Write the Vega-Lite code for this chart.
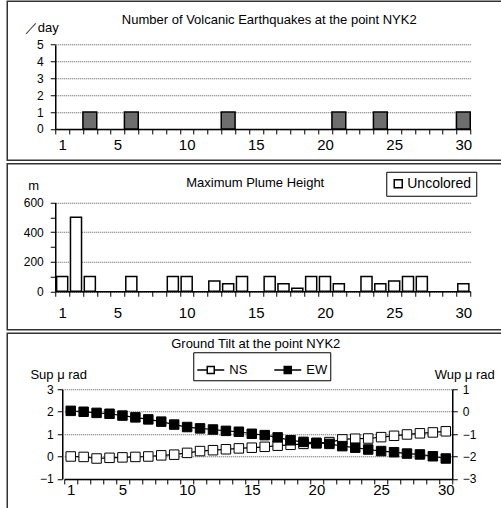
{
  "$schema": "https://vega.github.io/schema/vega-lite/v6.json",
  "padding": {"left": 6.25, "top": 0.25, "right": 0, "bottom": 0},
  "background": "white",
  "spacing": 1.5,
  "resolve": {"scale": {"fill": "independent"}, "legend": {"fill": "independent"}},
  "config": {
    "view": {"stroke": "#333", "strokeWidth": 1.5},
    "font": "Liberation Sans",
    "axis": {
      "labelFont": "Liberation Sans", "titleFont": "Liberation Sans",
      "labelColor": "black", "titleColor": "black",
      "domainColor": "black", "tickColor": "black",
      "tickSize": 5, "domainWidth": 1.5, "tickWidth": 1,
      "titleFontWeight": "normal", "titleFontSize": 13, "labelFontSize": 12,
      "gridColor": "#555", "gridDash": [1, 1], "gridWidth": 1
    },
    "title": {"font": "Liberation Sans", "fontSize": 13, "fontWeight": "normal", "color": "black", "frame": "group"},
    "legend": {"labelFont": "Liberation Sans", "labelColor": "black", "labelFontSize": 13}
  },
  "datasets": {
    "quakes": [
      {"day": 3, "count": 1}, {"day": 6, "count": 1}, {"day": 13, "count": 1},
      {"day": 21, "count": 1}, {"day": 24, "count": 1}, {"day": 30, "count": 1}
    ],
    "plume": [
      {"day": 1, "height": 100, "kind": "Uncolored"}, {"day": 2, "height": 500, "kind": "Uncolored"},
      {"day": 3, "height": 100, "kind": "Uncolored"}, {"day": 6, "height": 100, "kind": "Uncolored"},
      {"day": 9, "height": 100, "kind": "Uncolored"}, {"day": 10, "height": 100, "kind": "Uncolored"},
      {"day": 12, "height": 70, "kind": "Uncolored"}, {"day": 13, "height": 50, "kind": "Uncolored"},
      {"day": 14, "height": 100, "kind": "Uncolored"}, {"day": 16, "height": 100, "kind": "Uncolored"},
      {"day": 17, "height": 50, "kind": "Uncolored"}, {"day": 18, "height": 20, "kind": "Uncolored"},
      {"day": 19, "height": 100, "kind": "Uncolored"}, {"day": 20, "height": 100, "kind": "Uncolored"},
      {"day": 21, "height": 50, "kind": "Uncolored"}, {"day": 23, "height": 100, "kind": "Uncolored"},
      {"day": 24, "height": 50, "kind": "Uncolored"}, {"day": 25, "height": 70, "kind": "Uncolored"},
      {"day": 26, "height": 100, "kind": "Uncolored"}, {"day": 27, "height": 100, "kind": "Uncolored"},
      {"day": 30, "height": 50, "kind": "Uncolored"}
    ],
    "tilt": [
      {"day": 1, "series": "NS", "value": 0.0}, {"day": 2, "series": "NS", "value": -0.02},
      {"day": 3, "series": "NS", "value": -0.09}, {"day": 4, "series": "NS", "value": -0.06},
      {"day": 5, "series": "NS", "value": -0.04}, {"day": 6, "series": "NS", "value": -0.02},
      {"day": 7, "series": "NS", "value": 0.0}, {"day": 8, "series": "NS", "value": 0.05},
      {"day": 9, "series": "NS", "value": 0.08}, {"day": 10, "series": "NS", "value": 0.16},
      {"day": 11, "series": "NS", "value": 0.24}, {"day": 12, "series": "NS", "value": 0.28},
      {"day": 13, "series": "NS", "value": 0.32}, {"day": 14, "series": "NS", "value": 0.36},
      {"day": 15, "series": "NS", "value": 0.39}, {"day": 16, "series": "NS", "value": 0.43},
      {"day": 17, "series": "NS", "value": 0.48}, {"day": 18, "series": "NS", "value": 0.52},
      {"day": 19, "series": "NS", "value": 0.56}, {"day": 20, "series": "NS", "value": 0.58},
      {"day": 21, "series": "NS", "value": 0.64}, {"day": 22, "series": "NS", "value": 0.76},
      {"day": 23, "series": "NS", "value": 0.79}, {"day": 24, "series": "NS", "value": 0.8},
      {"day": 25, "series": "NS", "value": 0.86}, {"day": 26, "series": "NS", "value": 0.92},
      {"day": 27, "series": "NS", "value": 0.98}, {"day": 28, "series": "NS", "value": 1.03},
      {"day": 29, "series": "NS", "value": 1.07}, {"day": 30, "series": "NS", "value": 1.12},
      {"day": 1, "series": "EW", "value": 0.03}, {"day": 2, "series": "EW", "value": -0.01},
      {"day": 3, "series": "EW", "value": -0.06}, {"day": 4, "series": "EW", "value": -0.1},
      {"day": 5, "series": "EW", "value": -0.18}, {"day": 6, "series": "EW", "value": -0.26},
      {"day": 7, "series": "EW", "value": -0.35}, {"day": 8, "series": "EW", "value": -0.45},
      {"day": 9, "series": "EW", "value": -0.58}, {"day": 10, "series": "EW", "value": -0.69},
      {"day": 11, "series": "EW", "value": -0.75}, {"day": 12, "series": "EW", "value": -0.8},
      {"day": 13, "series": "EW", "value": -0.86}, {"day": 14, "series": "EW", "value": -0.9},
      {"day": 15, "series": "EW", "value": -0.99}, {"day": 16, "series": "EW", "value": -1.05},
      {"day": 17, "series": "EW", "value": -1.15}, {"day": 18, "series": "EW", "value": -1.28},
      {"day": 19, "series": "EW", "value": -1.35}, {"day": 20, "series": "EW", "value": -1.39},
      {"day": 21, "series": "EW", "value": -1.44}, {"day": 22, "series": "EW", "value": -1.54},
      {"day": 23, "series": "EW", "value": -1.61}, {"day": 24, "series": "EW", "value": -1.69},
      {"day": 25, "series": "EW", "value": -1.76}, {"day": 26, "series": "EW", "value": -1.81},
      {"day": 27, "series": "EW", "value": -1.87}, {"day": 28, "series": "EW", "value": -1.91},
      {"day": 29, "series": "EW", "value": -1.99}, {"day": 30, "series": "EW", "value": -2.09}
    ]
  },
  "vconcat": [
    {
      "width": 520, "height": 159,
      "title": {"text": "Number of Volcanic Earthquakes at the point NYK2", "offset": -25.5, "dx": 2},
      "data": {"name": "quakes"},
      "mark": {"type": "bar", "fill": "#6e6e6e", "stroke": "black", "strokeWidth": 1.5, "width": {"band": 1}},
      "encoding": {
        "x": {
          "field": "day", "type": "ordinal",
          "scale": {"type": "band", "domain": [1,2,3,4,5,6,7,8,9,10,11,12,13,14,15,16,17,18,19,20,21,22,23,24,25,26,27,28,29,30], "range": [48, 463], "paddingInner": 0, "paddingOuter": 0},
          "axis": {"title": null, "labelAngle": 0, "tickBand": "extent", "offset": -31.3, "labelExpr": "indexof([1,5,10,15,20,25,30], datum.value) >= 0 ? datum.label : ''", "labelOverlap": false, "labelFontSize": 15, "labelPadding": 4, "grid": false}
        },
        "y": {
          "field": "count", "type": "quantitative",
          "scale": {"domain": [0, 5], "range": [127.7, 43.4], "nice": false},
          "axis": {"title": "／day", "titleAngle": 0, "titleX": -14, "titleY": 26, "titleAlign": "center", "titleBaseline": "middle", "values": [0,1,2,3,4,5], "grid": true, "offset": -48, "labelPadding": 7}
        }
      }
    },
    {
      "width": 520, "height": 166,
      "title": {"text": "Maximum Plume Height", "offset": -26.5, "dx": -12},
      "data": {"name": "plume"},
      "mark": {"type": "bar", "stroke": "black", "strokeWidth": 1.5, "width": {"band": 0.8}},
      "encoding": {
        "x": {
          "field": "day", "type": "ordinal",
          "scale": {"type": "band", "domain": [1,2,3,4,5,6,7,8,9,10,11,12,13,14,15,16,17,18,19,20,21,22,23,24,25,26,27,28,29,30], "range": [48, 463], "paddingInner": 0, "paddingOuter": 0},
          "axis": {"title": null, "labelAngle": 0, "tickBand": "extent", "offset": -38.5, "labelExpr": "indexof([1,5,10,15,20,25,30], datum.value) >= 0 ? datum.label : ''", "labelOverlap": false, "labelFontSize": 15, "labelPadding": 9, "grid": false}
        },
        "y": {
          "field": "height", "type": "quantitative",
          "scale": {"domain": [0, 600], "range": [127.5, 38.7], "nice": false},
          "axis": {"title": "m", "titleAngle": 0, "titleX": -22, "titleY": 22, "titleAlign": "center", "titleBaseline": "middle", "values": [0,100,200,300,400,500,600], "labelExpr": "datum.value % 200 === 0 ? datum.label : ''", "grid": true, "gridOpacity": {"condition": {"test": "datum.value % 200 === 0", "value": 1}, "value": 0}, "offset": -48, "labelPadding": 7}
        },
        "fill": {
          "field": "kind", "type": "nominal",
          "scale": {"domain": ["Uncolored"], "range": ["white"]},
          "legend": {"title": null, "orient": "none", "legendX": 379, "legendY": 8, "strokeColor": "black", "padding": 5, "symbolType": "square", "symbolSize": 64, "symbolStrokeColor": "black", "symbolStrokeWidth": 1.5, "labelFontSize": 14, "labelOffset": 2, "labelExpr": "datum.label + '\u00a0\u00a0'"}
        }
      }
    },
    {
      "width": 520, "height": 190,
      "title": {"text": "Ground Tilt at the point NYK2", "offset": -17.5, "dx": -11.5},
      "data": {"name": "tilt"},
      "layer": [
        {
          "transform": [{"filter": "datum.series === 'NS'"}],
          "encoding": {
            "x": {
              "field": "day", "type": "ordinal", "bandPosition": 0.5,
              "scale": {"type": "band", "domain": [1,2,3,4,5,6,7,8,9,10,11,12,13,14,15,16,17,18,19,20,21,22,23,24,25,26,27,28,29,30], "range": [57, 445], "paddingInner": 0, "paddingOuter": 0},
              "axis": {"title": null, "labelAngle": 0, "tickBand": "extent", "offset": -44.3, "labelExpr": "indexof([1,5,10,15,20,25,30], datum.value) >= 0 ? datum.label : ''", "labelOverlap": false, "labelFontSize": 15, "labelPadding": -1, "grid": false}
            },
            "y": {
              "field": "value", "type": "quantitative",
              "scale": {"domain": [-1, 3], "range": [145.7, 55.8], "nice": false, "zero": false},
              "axis": {"title": "Sup μ rad", "orient": "left", "titleAngle": 0, "titleX": -4, "titleY": 41, "titleAlign": "center", "titleBaseline": "middle", "values": [-1,0,1,2,3], "grid": true, "offset": -55, "labelPadding": 4}
            }
          },
          "layer": [
            {"mark": {"type": "line", "color": "black", "strokeWidth": 1.2}},
            {
              "mark": {"type": "square", "size": 90, "stroke": "black", "strokeWidth": 1, "opacity": 1},
              "encoding": {
                "fill": {
                  "field": "series", "type": "nominal",
                  "scale": {"domain": ["NS", "EW"], "range": ["white", "black"]},
                  "legend": {"title": null, "orient": "none", "legendX": 186, "legendY": 19, "direction": "horizontal", "strokeColor": "black", "padding": 3, "symbolType": "M-1,0H-0.26M0.26,0H1M-0.26,-0.26H0.26V0.26H-0.26Z", "symbolSize": 729, "symbolStrokeColor": "black", "symbolStrokeWidth": 1.5, "labelFontSize": 13, "columnPadding": 23, "labelOffset": 4, "labelExpr": "datum.label + '\u00a0\u00a0\u00a0\u00a0'"}
                }
              }
            }
          ]
        },
        {
          "transform": [{"filter": "datum.series === 'EW'"}],
          "encoding": {
            "x": {
              "field": "day", "type": "ordinal", "bandPosition": 0.5,
              "scale": {"type": "band", "domain": [1,2,3,4,5,6,7,8,9,10,11,12,13,14,15,16,17,18,19,20,21,22,23,24,25,26,27,28,29,30], "range": [57, 445], "paddingInner": 0, "paddingOuter": 0},
              "axis": {"title": null, "labelAngle": 0, "tickBand": "extent", "offset": -44.3, "labelExpr": "indexof([1,5,10,15,20,25,30], datum.value) >= 0 ? datum.label : ''", "labelOverlap": false, "labelFontSize": 15, "labelPadding": -1, "grid": false}
            },
            "y": {
              "field": "value", "type": "quantitative",
              "scale": {"domain": [-3, 1], "range": [145.7, 55.8], "nice": false, "zero": false},
              "axis": {"title": "Wup μ rad", "orient": "right", "titleAngle": 0, "titleX": 12, "titleY": 41, "titleAlign": "center", "titleBaseline": "middle", "values": [-3,-2,-1,0,1], "grid": false, "offset": -75, "labelPadding": 5}
            }
          },
          "layer": [
            {"mark": {"type": "line", "color": "black", "strokeWidth": 1.2}},
            {
              "mark": {"type": "square", "size": 90, "stroke": "black", "strokeWidth": 1, "opacity": 1},
              "encoding": {
                "fill": {
                  "field": "series", "type": "nominal",
                  "scale": {"domain": ["NS", "EW"], "range": ["white", "black"]},
                  "legend": {"title": null, "orient": "none", "legendX": 186, "legendY": 19, "direction": "horizontal", "strokeColor": "black", "padding": 3, "symbolType": "M-1,0H-0.26M0.26,0H1M-0.26,-0.26H0.26V0.26H-0.26Z", "symbolSize": 729, "symbolStrokeColor": "black", "symbolStrokeWidth": 1.5, "labelFontSize": 13, "columnPadding": 23, "labelOffset": 4, "labelExpr": "datum.label + '\u00a0\u00a0\u00a0\u00a0'"}
                }
              }
            }
          ]
        }
      ],
      "resolve": {"scale": {"y": "independent"}}
    }
  ]
}
